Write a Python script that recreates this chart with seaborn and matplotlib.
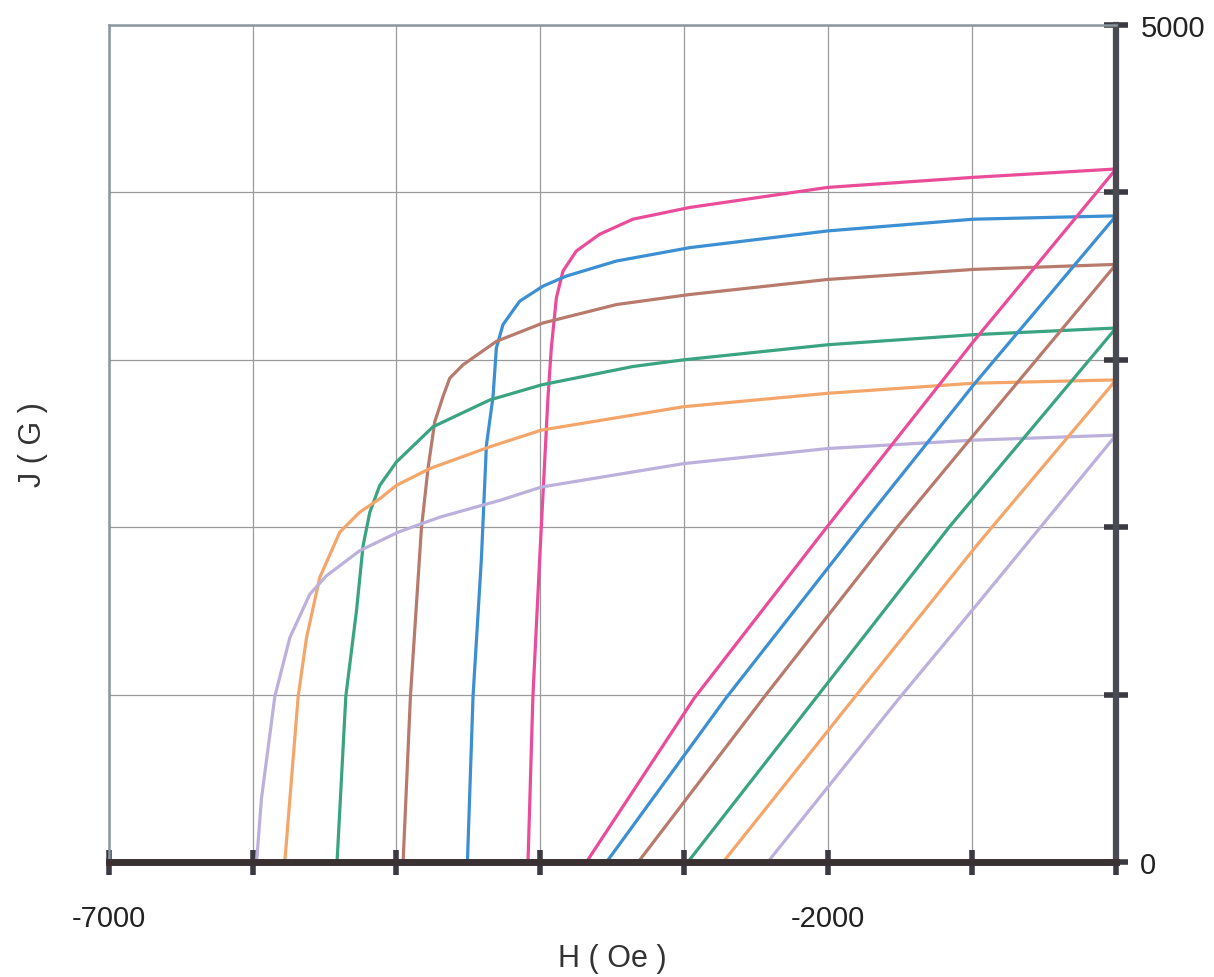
import numpy as np
import pandas as pd
import matplotlib
matplotlib.use('Agg')
import matplotlib.pyplot as plt
import seaborn as sns

# demagnetization curves J(H) (Oe, G)
pink_H = [-4086, -4052, -4005, -3947, -3924, -3889, -3843, -3750, -3588, -3357, -2963, -2003, -991, 0]
pink_J = [0, 990, 1810, 2780, 3070, 3370, 3530, 3650, 3750, 3840, 3910, 4030, 4090, 4140]

blue_H = [-4507, -4468, -4410, -4375, -4329, -4306, -4260, -4144, -3982, -3820, -3472, -2963, -2003, -991, 0]
blue_J = [0, 990, 1810, 2490, 2780, 3070, 3210, 3350, 3440, 3500, 3590, 3670, 3770, 3840, 3860]

brown_H = [-4954, -4903, -4827, -4781, -4734, -4677, -4630, -4538, -4306, -3982, -3472, -2963, -2003, -991, 0]
brown_J = [0, 990, 1990, 2350, 2630, 2780, 2890, 2970, 3110, 3220, 3330, 3390, 3480, 3540, 3570]

green_H = [-5413, -5352, -5278, -5232, -5185, -5116, -5000, -4746, -4352, -3993, -3357, -3003, -2003, -991, 0]
green_J = [0, 990, 1500, 1890, 2090, 2250, 2390, 2600, 2760, 2850, 2960, 3000, 3090, 3150, 3190]

orange_H = [-5776, -5683, -5625, -5533, -5394, -5255, -5116, -5000, -4769, -4352, -3993, -3003, -2003, -991, 0]
orange_J = [0, 990, 1340, 1700, 1970, 2090, 2170, 2250, 2350, 2480, 2580, 2720, 2800, 2860, 2880]

lav_H = [-5972, -5938, -5845, -5741, -5602, -5486, -5255, -4989, -4699, -4283, -3993, -3003, -2003, -991, 0]
lav_J = [0, 380, 990, 1340, 1600, 1710, 1860, 1970, 2060, 2160, 2240, 2380, 2470, 2520, 2550]

# B(H) lines
pink_bH = [-3680, -2930, -2010, -990, 0]
pink_B = [0, 980, 2000, 3110, 4140]
blue_bH = [-3540, -2710, -1780, -990, 0]
blue_B = [0, 980, 2000, 2850, 3860]
brown_bH = [-3320, -2450, -1520, -990, 0]
brown_B = [0, 980, 2000, 2550, 3570]
green_bH = [-2975, -2085, -1160, 0]
green_B = [0, 980, 2000, 3190]
orange_bH = [-2730, -1820, -950, 0]
orange_B = [0, 980, 1910, 2880]
lav_bH = [-2420, -1505, -950, 0]
lav_B = [0, 980, 1555, 2550]

names = ['pink', 'blue', 'brown', 'green', 'orange', 'lavender']
colors = ['#ea4c9a', '#3b8fd2', '#b87a6c', '#3aa482', '#f4a66a', '#bcb0dc']

J_curves = [(pink_H, pink_J), (blue_H, blue_J), (brown_H, brown_J),
            (green_H, green_J), (orange_H, orange_J), (lav_H, lav_J)]
B_curves = [(pink_bH, pink_B), (blue_bH, blue_B), (brown_bH, brown_B),
            (green_bH, green_B), (orange_bH, orange_B), (lav_bH, lav_B)]

dfJ = pd.concat([pd.DataFrame({'H': h, 'v': v, 'mag': n}) for (h, v), n in zip(J_curves, names)])
dfB = pd.concat([pd.DataFrame({'H': h, 'v': v, 'mag': n}) for (h, v), n in zip(B_curves, names)])
pal = dict(zip(names, colors))

sns.set_theme(style='white')
plt.rcParams['font.family'] = ['Liberation Sans', 'DejaVu Sans']

fig = plt.figure(figsize=(12.14, 9.78), dpi=100)
ax = fig.add_axes([0.0895, 0.1176, 0.8298, 0.8558])

sns.lineplot(data=dfJ, x='H', y='v', hue='mag', palette=pal, estimator=None,
             sort=False, linewidth=2.3, legend=False, ax=ax)
sns.lineplot(data=dfB, x='H', y='v', hue='mag', palette=pal, estimator=None,
             sort=False, linewidth=2.3, legend=False, ax=ax)

ax.set_xlim(-7000, 0)
ax.set_ylim(0, 5000)

xt = np.arange(-7000, 1, 1000)
ax.set_xticks(xt)
ax.set_xticklabels(['-7000' if t == -7000 else '-2000' if t == -2000 else '' for t in xt])
yt = np.arange(0, 5001, 1000)
ax.set_yticks(yt)
ax.set_yticklabels(['0' if t == 0 else '5000' if t == 5000 else '' for t in yt])
ax.yaxis.tick_right()

ax.grid(True, color='#9a9a9a', linewidth=0.9)
ax.set_axisbelow(True)

for s in ['left', 'top']:
    ax.spines[s].set_color('#8a96a0')
    ax.spines[s].set_linewidth(1.8)
ax.spines['right'].set_color('#4a4a52')
ax.spines['right'].set_linewidth(4.5)
ax.spines['bottom'].set_color('#3a3232')
ax.spines['bottom'].set_linewidth(5)

ax.tick_params(axis='x', direction='inout', length=18, width=4, color='#3a3a40',
               pad=21, labelsize=21, labelcolor='#222222', bottom=True)
ax.tick_params(axis='y', direction='inout', length=17, width=4, color='#3a3a40',
               pad=9, labelsize=21, labelcolor='#222222', right=True, left=False)

ax.set_xlabel('H ( Oe )', fontsize=22, color='#333333', labelpad=8)
ax.set_ylabel('J ( G )', fontsize=22, color='#333333', labelpad=44)
ax.yaxis.set_label_position('left')

fig.savefig('out.png', dpi=100, facecolor='white')
